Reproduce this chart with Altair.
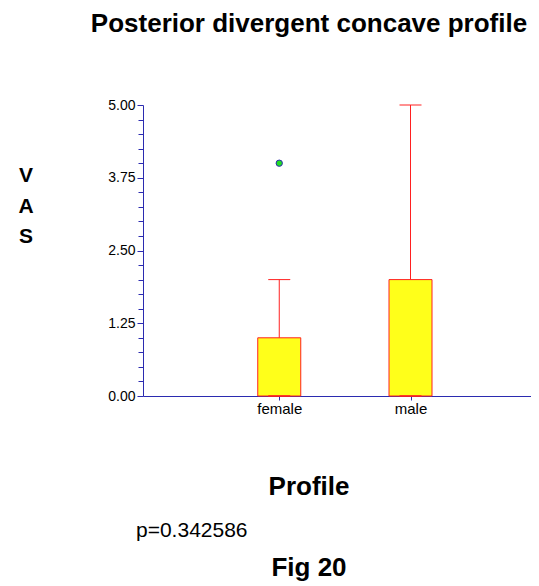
import altair as alt
import pandas as pd

# ---- data ----
categories = ["female", "male"]
q1 = [0.0, 0.0]
median = [0.0, 0.0]
q3 = [1.0, 2.0]
whisker_low = [0.0, 0.0]
whisker_high = [2.0, 5.0]
outlier_category = ["female"]
outlier_value = [4.0]
y_ticks = [i * 0.25 for i in range(21)]
y_major_step = 1.25

title_text = "Posterior divergent concave profile"
y_title_text = "V\nA\nS"
x_title_text = "Profile"
p_text = "p=0.342586"
fig_text = "Fig 20"

# ---- tables ----
box_df = pd.DataFrame({
    "category": categories,
    "pos": [i + 1 for i in range(len(categories))],
    "q1": q1, "median": median, "q3": q3,
    "lo": whisker_low, "hi": whisker_high,
})
out_df = pd.DataFrame({
    "category": outlier_category,
    "pos": [categories.index(c) + 1 for c in outlier_category],
    "value": outlier_value,
})

BLUE = "#2b2bb0"
RED = "#ff2020"
YELLOW = "#ffff1a"
GREEN = "#22dd22"
FONT = "Liberation Sans"

label_array = "[" + ",".join(['""'] + ['"' + c + '"' for c in categories]) + "]"
major_test = "abs(datum.value / " + str(y_major_step) + " - round(datum.value / " + str(y_major_step) + ")) < 0.001"

x_scale = alt.Scale(domain=[0, 2.88], nice=False, zero=False)
y_scale = alt.Scale(domain=[0, 5], nice=False, zero=False)

x_axis = alt.Axis(
    values=[i + 1 for i in range(len(categories))],
    labelExpr=label_array + "[datum.value]",
    grid=False, domainColor=BLUE, tickColor=BLUE, tickSize=4,
    labelFontSize=15, labelFont=FONT, labelColor="black", labelPadding=1,
    labelOverlap=False,
)
y_axis = alt.Axis(
    values=y_ticks,
    labelExpr="(" + major_test + ") ? format(datum.value, '.2f') : ''",
    grid=False, domainColor=BLUE, tickColor=BLUE,
    tickSize={"condition": {"test": major_test, "value": 6}, "value": 5},
    labelFontSize=14, labelFont=FONT, labelColor="black", labelPadding=2,
    labelOverlap=False, labelFlush=False,
)

X = alt.X("pos:Q", scale=x_scale, axis=x_axis, title=None)


def Y(field):
    return alt.Y(field, scale=y_scale, axis=y_axis, title=None)


base = alt.Chart(box_df)

boxes = base.mark_bar(size=43, fill=YELLOW, stroke=RED, strokeWidth=1).encode(
    x=X, y=Y("q1:Q"), y2="q3:Q",
)
whiskers = base.mark_rule(color=RED, strokeWidth=1).encode(
    x=X, y=Y("q3:Q"), y2="hi:Q"
)
lower_whiskers = base.mark_rule(color=RED, strokeWidth=1).encode(
    x=X, y=Y("lo:Q"), y2="q1:Q"
)
caps = base.mark_tick(orient="horizontal", size=22, thickness=1, color=RED, opacity=1).encode(
    x=X, y=Y("hi:Q")
)
medians = base.mark_tick(orient="horizontal", size=22, thickness=1.5, color=RED, opacity=1).encode(
    x=X, y=Y("median:Q")
)
outliers = alt.Chart(out_df).mark_point(
    shape="circle", filled=True, fill=GREEN, stroke=BLUE, strokeWidth=1, size=40, opacity=1
).encode(x=X, y=Y("value:Q"))

ann_df = pd.DataFrame({"k": [0]})


def label(text, x, y, size, bold=True, align="center"):
    return alt.Chart(ann_df).mark_text(
        text=text, font=FONT, fontSize=size, fontWeight="bold" if bold else "normal",
        align=align, baseline="alphabetic", color="black", lineBreak="\n", lineHeight=30.5,
    ).encode(x=alt.value(x), y=alt.value(y))


title = label(title_text, 166, -73, 26)
y_title = label(y_title_text, -117, 77, 21)
x_title = label(x_title_text, 166, 390, 26)
p_label = label(p_text, -7, 432, 21, bold=False, align="left")
fig_label = label(fig_text, 166, 471, 26)

chart = alt.layer(
    boxes, lower_whiskers, whiskers, caps, medians, outliers,
    title, y_title, x_title, p_label, fig_label,
).properties(
    width=388, height=291,
    padding={"left": 135, "top": 97, "right": 0, "bottom": 187},
    autosize=alt.AutoSizeParams(type="none"),
    background="white",
).configure_view(strokeWidth=0)

chart.save("out.html", embed_options={"renderer": "svg", "actions": False})
